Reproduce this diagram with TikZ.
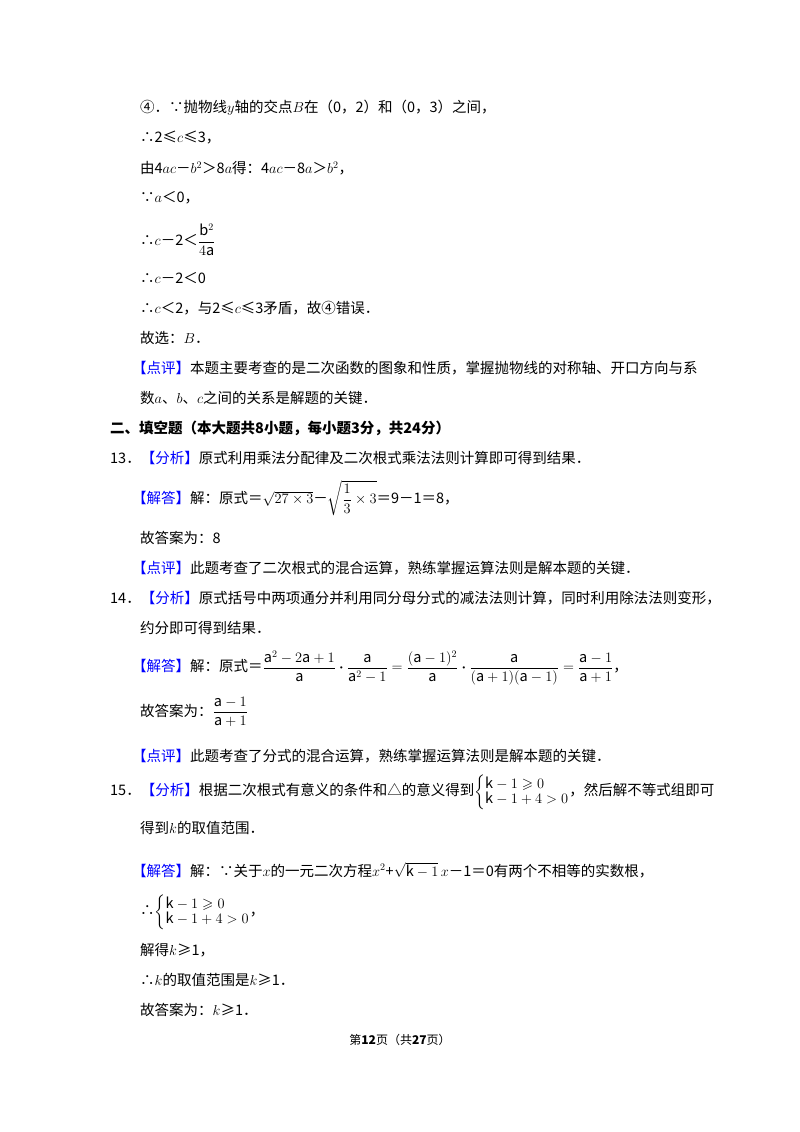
\documentclass[tikz,border=0pt]{standalone}
\usepackage{amsmath,amssymb}
\usepackage{fontspec}
\setmainfont{Noto Sans CJK SC}
\begin{document}
\begin{tikzpicture}[x=1pt,y=-1pt,every node/.style={anchor=west,inner sep=0pt,font=\fontsize{14.5}{17}\selectfont}]
\newcommand{\bk}[1]{\textcolor{blue}{【#1】}}
\newcommand{\sysk}{\(\left\{\renewcommand{\arraystretch}{0.75}\begin{array}{@{}l@{}}\mathrm{k}-1\geqslant0\\ \mathrm{k}-1+4>0\end{array}\right.\)}
\useasboundingbox (0,0) rectangle (800,1132);
\fill[white] (0,0) rectangle (800,1132);
\node (t1) at (140,108) {④．∵抛物线\(y\)轴的交点\(B\)在（0，2）和（0，3）之间，};
\node (t2) at (140,138) {∴2≤\(c\)≤3，};
\node (t3) at (140,168) {由4\(ac\)－\(b^2\)＞8\(a\)得：4\(ac\)－8\(a\)＞\(b^2\)，};
\node (t4) at (140,198) {∵\(a\)＜0，};
\node (t5) at (140,240) {∴\(c\)－2＜\(\dfrac{\mathrm{b}^2}{4\mathrm{a}}\)};
\node (t6) at (140,278) {∴\(c\)－2＜0};
\node (t7) at (140,308) {∴\(c\)＜2，与2≤\(c\)≤3矛盾，故④错误．};
\node (t8) at (140,338) {故选：\(B\)．};
\node (t9) at (132,368) {\bk{点评}本题主要考查的是二次函数的图象和性质，掌握抛物线的对称轴、开口方向与系};
\node (t10) at (140,398) {数\(a\)、\(b\)、\(c\)之间的关系是解题的关键．};
\node (t11) at (110,428) {\bfseries 二、填空题（本大题共8小题，每小题3分，共24分）};
\node (t12) at (110,458) {13．\bk{分析}原式利用乘法分配律及二次根式乘法法则计算即可得到结果．};
\node (t13) at (132,498) {\bk{解答}解：原式＝\(\sqrt{27\times3}\)－\(\sqrt{\dfrac{1}{3}\times3}\)＝9－1＝8，};
\node (t14) at (140,538) {故答案为：8};
\node (t15) at (132,568) {\bk{点评}此题考查了二次根式的混合运算，熟练掌握运算法则是解本题的关键．};
\node (t16) at (110,598) {14．\bk{分析}原式括号中两项通分并利用同分母分式的减法法则计算，同时利用除法法则变形，};
\node (t17) at (140,628) {约分即可得到结果．};
\node (t18) at (132,668) {\bk{解答}解：原式＝\(\dfrac{\mathrm{a}^2-2\mathrm{a}+1}{\mathrm{a}}\boldsymbol{\cdot}\dfrac{\mathrm{a}}{\mathrm{a}^2-1}=\dfrac{(\mathrm{a}-1)^2}{\mathrm{a}}\boldsymbol{\cdot}\dfrac{\mathrm{a}}{(\mathrm{a}+1)(\mathrm{a}-1)}=\dfrac{\mathrm{a}-1}{\mathrm{a}+1}\)，};
\node (t19) at (140,712) {故答案为：\(\dfrac{\mathrm{a}-1}{\mathrm{a}+1}\)};
\node (t20) at (132,756) {\bk{点评}此题考查了分式的混合运算，熟练掌握运算法则是解本题的关键．};
\node (t21) at (110,792) {15．\bk{分析}根据二次根式有意义的条件和△的意义得到\sysk，然后解不等式组即可};
\node (t22) at (140,828) {得到\(k\)的取值范围．};
\node (t23) at (132,870) {\bk{解答}解：∵关于\(x\)的一元二次方程\(x^2\)+\(\sqrt{\mathrm{k}-1}\,x\)－1＝0有两个不相等的实数根，};
\node (t24) at (140,912) {∴\sysk，};
\node (t25) at (140,950) {解得\(k\)≥1，};
\node (t26) at (140,980) {∴\(k\)的取值范围是\(k\)≥1．};
\node (t27) at (140,1010) {故答案为：\(k\)≥1．};
\node[anchor=center,font=\fontsize{12}{14}\selectfont] (t28) at (400,1040) {第\textbf{12}页（共\textbf{27}页）};
\end{tikzpicture}
\end{document}
